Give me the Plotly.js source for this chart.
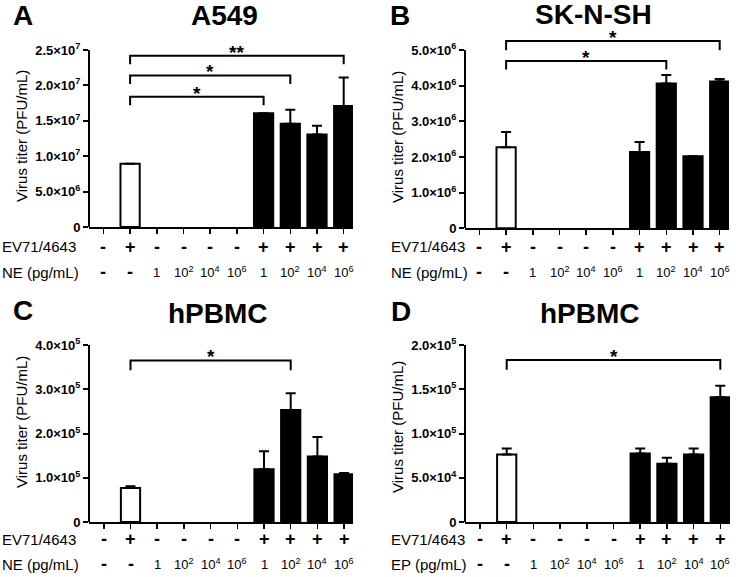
<!DOCTYPE html>
<html><head><meta charset="utf-8">
<script src="https://cdn.plot.ly/plotly-3.0.1.min.js"></script>
<style>html,body{margin:0;padding:0;background:#fff}#chart{width:736px;height:577px}</style>
</head><body><div id="chart"></div>
<script>
// ---------- data ----------
const categories = [0,1,2,3,4,5,6,7,8,9];
const virusRow = ['-','+','-','-','-','-','+','+','+','+'];
const doseRow = ['-','-','1','10<sup>2</sup>','10<sup>4</sup>','10<sup>6</sup>','1','10<sup>2</sup>','10<sup>4</sup>','10<sup>6</sup>'];
const virusLabel = 'EV71/4643';

const panelLetters = ['A','B','C','D'];
const panelTitles = ['A549','SK-N-SH','hPBMC','hPBMC'];
const doseLabels = ['NE (pg/mL)','NE (pg/mL)','NE (pg/mL)','EP (pg/mL)'];
const yTitle = 'Virus titer (PFU/mL)';

const A_mean = [null, 8.95e6, null, null, null, null, 1.605e7, 1.457e7, 1.306e7, 1.71e7];
const A_err  = [null, 0, null, null, null, null, 0, 2.0e6, 1.25e6, 4.0e6];
const B_mean = [null, 2.27e6, null, null, null, null, 2.14e6, 4.06e6, 2.02e6, 4.12e6];
const B_err  = [null, 0.43e6, null, null, null, null, 0.28e6, 0.24e6, 0, 0.07e6];
const C_mean = [null, 7.7e4, null, null, null, null, 1.19e5, 2.53e5, 1.48e5, 1.08e5];
const C_err  = [null, 0.4e4, null, null, null, null, 0.41e5, 0.38e5, 0.44e5, 0.03e5];
const D_mean = [null, 7.64e4, null, null, null, null, 7.75e4, 6.58e4, 7.64e4, 1.41e5];
const D_err  = [null, 0.66e4, null, null, null, null, 0.55e4, 0.68e4, 0.66e4, 0.13e5];

const A_ticks = [0, 5e6, 1e7, 1.5e7, 2e7, 2.5e7];
const A_tickText = ['0','5.0×10<sup>6</sup>','1.0×10<sup>7</sup>','1.5×10<sup>7</sup>','2.0×10<sup>7</sup>','2.5×10<sup>7</sup>'];
const B_ticks = [0, 1e6, 2e6, 3e6, 4e6, 5e6];
const B_tickText = ['0','1.0×10<sup>6</sup>','2.0×10<sup>6</sup>','3.0×10<sup>6</sup>','4.0×10<sup>6</sup>','5.0×10<sup>6</sup>'];
const C_ticks = [0, 1e5, 2e5, 3e5, 4e5];
const C_tickText = ['0','1.0×10<sup>5</sup>','2.0×10<sup>5</sup>','3.0×10<sup>5</sup>','4.0×10<sup>5</sup>'];
const D_ticks = [0, 5e4, 1e5, 1.5e5, 2e5];
const D_tickText = ['0','5.0×10<sup>4</sup>','1.0×10<sup>5</sup>','1.5×10<sup>5</sup>','2.0×10<sup>5</sup>'];

// significance brackets: [from, to, bar level, drop level, label]
const A_brackets = [[1, 9, 2.42e7, 2.30e7, '**'], [1, 7, 2.14e7, 2.02e7, '*'], [1, 6, 1.84e7, 1.72e7, '*']];
const B_brackets = [[1, 9, 5.25e6, 4.99e6, '*'], [1, 7, 4.69e6, 4.45e6, '*']];
const C_brackets = [[1, 7, 3.65e5, 3.43e5, '*']];
const D_brackets = [[1, 9, 1.83e5, 1.72e5, '*']];

const means = [A_mean, B_mean, C_mean, D_mean];
const errs = [A_err, B_err, C_err, D_err];
const ticks = [A_ticks, B_ticks, C_ticks, D_ticks];
const tickTexts = [A_tickText, B_tickText, C_tickText, D_tickText];
const brackets = [A_brackets, B_brackets, C_brackets, D_brackets];

// ---------- geometry (pixels) ----------
const W = 736, H = 577;
const geom = [
  {left: 89,  right: 353, cat0: 103.4, zero: 227,   topTickPx: 50,  top: 30,  letter:[23,15],  title:[224,15],  yt:[21,136],  rowV:247, rowD:272, labX:0},
  {left: 465, right: 729, cat0: 479.4, zero: 228.3, topTickPx: 50,  top: 28,  letter:[400,15], title:[593,14],  yt:[397,137], rowV:247, rowD:272, labX:389},
  {left: 89,  right: 353, cat0: 103.8, zero: 522,   topTickPx: 345, top: 330, letter:[23,310], title:[218,313], yt:[21,422],  rowV:539, rowD:564, labX:0},
  {left: 465, right: 730, cat0: 480,   zero: 522,   topTickPx: 345, top: 330, letter:[401,311],title:[590,313], yt:[397,427], rowV:539, rowD:564, labX:389}
];
const SP = 26.7;
const px = x => x / W;
const py = y => 1 - y / H;
const FAM = 'Liberation Sans, Arial, sans-serif';
const INK = '#000';

const data = [];
const layout = {
  width: W, height: H, margin: {l:0, r:0, t:0, b:0},
  paper_bgcolor: '#fff', plot_bgcolor: 'rgba(0,0,0,0)',
  showlegend: false, font: {family: FAM, color: INK},
  shapes: [], annotations: [], bargap: 0
};

for (let p = 0; p < 4; p++) {
  const g = geom[p];
  const xa = p === 0 ? 'x' : 'x' + (p + 1);
  const ya = p === 0 ? 'y' : 'y' + (p + 1);
  const xk = p === 0 ? 'xaxis' : 'xaxis' + (p + 1);
  const yk = p === 0 ? 'yaxis' : 'yaxis' + (p + 1);
  const tv = ticks[p];
  const topTick = tv[tv.length - 1];
  const ymax = topTick * (g.zero - g.top) / (g.zero - g.topTickPx);
  const xlo = -(g.cat0 - g.left) / SP;
  const xhi = xlo + (g.right - g.left) / SP;

  data.push({
    type: 'bar', x: categories, y: means[p], xaxis: xa, yaxis: ya, width: 0.72,
    marker: {color: categories.map(c => virusRow[c] === '+' && doseRow[c] === '-' ? '#fff' : '#000'),
             line: {color: INK, width: 2}},
    error_y: {type: 'data', symmetric: false, array: errs[p], arrayminus: errs[p].map(() => 0),
              color: INK, thickness: 2, width: 5, visible: true},
    hoverinfo: 'skip'
  });

  layout[xk] = {
    domain: [px(g.left), px(g.right)], range: [xlo, xhi], anchor: ya,
    showline: true, linewidth: 2, linecolor: INK, ticks: 'outside', ticklen: 5, tickwidth: 1.5, tickcolor: INK,
    tickvals: categories, showticklabels: false, showgrid: false, zeroline: false, fixedrange: true
  };
  layout[yk] = {
    domain: [py(g.zero), py(g.top)], range: [0, ymax], anchor: xa,
    showline: false, ticks: 'outside', ticklen: 5, tickwidth: 2, tickcolor: INK,
    tickvals: tv, ticktext: tickTexts[p].map(t => '<b>' + t + '</b>'), showgrid: false, zeroline: false, fixedrange: true,
    tickfont: {family: FAM, size: 13, weight: 'bold', color: INK}
  };
  // y axis line up to the top tick
  layout.shapes.push({type: 'line', xref: xa + ' domain', x0: 0, x1: 0, yref: ya, y0: 0, y1: topTick,
                      line: {color: INK, width: 2}});

  // brackets
  brackets[p].forEach(b => {
    const [f, t, lv, dr, lab] = b;
    layout.shapes.push({type: 'path', xref: xa, yref: ya,
      path: `M ${f},${dr} L ${f},${lv} L ${t},${lv} L ${t},${dr}`,
      line: {color: INK, width: 2}});
    layout.annotations.push({xref: xa, yref: ya, x: (f + t) / 2, y: lv, text: '<b>' + lab + '</b>', showarrow: false,
      xanchor: 'center', yanchor: 'bottom', yshift: -9, font: {family: FAM, size: 19, weight: 'bold', color: INK}});
  });

  // panel letter and title
  layout.annotations.push({xref: 'paper', yref: 'paper', x: px(g.letter[0]), y: py(g.letter[1]), text: '<b>' + panelLetters[p] + '</b>',
    showarrow: false, xanchor: 'center', yanchor: 'middle', font: {family: FAM, size: 28, weight: 'bold', color: INK}});
  layout.annotations.push({xref: 'paper', yref: 'paper', x: px(g.title[0]), y: py(g.title[1]), text: '<b>' + panelTitles[p] + '</b>',
    showarrow: false, xanchor: 'center', yanchor: 'middle', font: {family: FAM, size: 28, weight: 'bold', color: INK}});
  // y title
  layout.annotations.push({xref: 'paper', yref: 'paper', x: px(g.yt[0]), y: py(g.yt[1]), text: yTitle, textangle: -90,
    showarrow: false, xanchor: 'center', yanchor: 'middle', font: {family: FAM, size: 15, color: INK}});
  // row labels
  layout.annotations.push({xref: 'paper', yref: 'paper', x: px(g.labX), y: py(g.rowV), text: virusLabel,
    showarrow: false, xanchor: 'left', yanchor: 'middle', font: {family: FAM, size: 15, color: INK}});
  layout.annotations.push({xref: 'paper', yref: 'paper', x: px(g.labX), y: py(g.rowD), text: doseLabels[p],
    showarrow: false, xanchor: 'left', yanchor: 'middle', font: {family: FAM, size: 15, color: INK}});
  categories.forEach(c => {
    layout.annotations.push({xref: xa, yref: 'paper', x: c, y: py(g.rowV), text: '<b>' + virusRow[c] + '</b>', showarrow: false,
      xanchor: 'center', yanchor: 'middle', font: {family: FAM, size: 18, weight: 'bold', color: INK}});
    const isSign = doseRow[c] === '-';
    layout.annotations.push({xref: xa, yref: 'paper', x: c, y: py(g.rowD), text: isSign ? '<b>-</b>' : doseRow[c], showarrow: false,
      xanchor: 'center', yanchor: 'middle',
      font: {family: FAM, size: isSign ? 18 : 13, weight: isSign ? 'bold' : 'normal', color: INK}});
  });
}

Plotly.newPlot('chart', data, layout, {staticPlot: true, displayModeBar: false});
</script>
</body></html>
